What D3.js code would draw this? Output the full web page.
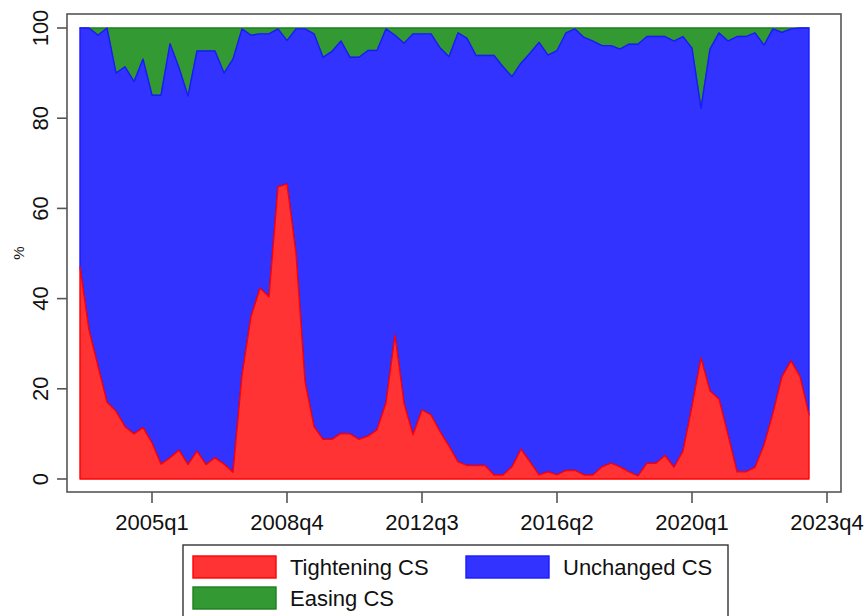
<!DOCTYPE html>
<html lang="en">
<head>
<meta charset="UTF-8">
<style>
  body { margin: 0; background: #fff; }
  svg { display: block; font-family: Arial, "Liberation Sans", sans-serif; }
</style>
</head>
<body>
<div id="chart"></div>
<script src="https://cdn.jsdelivr.net/npm/d3@7"></script>
<script>
// quarterly shares (%), 2003q1 .. 2023q2
var startYear = 2003, nQuarters = 82;

var tightening = [47, 33, 25, 17, 15, 11.6, 10, 11.4, 8, 3.3,
  4.7, 6.4, 3.2, 6.2, 3.2, 4.7, 3.3, 1.5, 23, 36,
  42.3, 40.4, 64.8, 65.4, 50, 21.6, 11.6, 8.8, 8.8, 10.1,
  10, 8.8, 9.5, 10.9, 16.9, 31.9, 16.8, 9.8, 15.3, 14.2,
  10.5, 7.3, 3.8, 3, 3, 3, 0.9, 0.9, 2.7, 6.6,
  3.8, 0.9, 1.6, 0.9, 1.9, 1.9, 0.9, 0.9, 2.7, 3.5,
  2.7, 1.6, 0.7, 3.5, 3.5, 5.2, 2.6, 6.2, 16.1, 26.8,
  19.5, 17.7, 9.8, 1.6, 1.6, 2.6, 7.5, 14.6, 22.7, 26.2,
  22.7, 14.2];

var unchanged = [53, 67, 73.4, 83, 75, 79.8, 78.1, 81.7, 77.1, 81.8,
  91.8, 84.8, 81.7, 88.7, 91.7, 90.2, 86.7, 91.6, 76.8, 62.4,
  56.4, 58.3, 35, 31.8, 49.8, 78.2, 87.1, 84.7, 86, 87,
  83.5, 84.7, 85.5, 84.1, 82.9, 66.5, 79.8, 88.9, 83.4, 84.5,
  85.1, 86.3, 95.1, 94.7, 90.9, 90.9, 93, 90.5, 86.5, 85.6,
  90.6, 95.9, 92.4, 94.1, 97, 97.9, 97, 96.2, 93.4, 92.6,
  92.6, 94.8, 95.7, 94.6, 94.6, 92.9, 94.5, 91.9, 79.4, 55.4,
  75.8, 81.2, 87.3, 96.5, 96.5, 96.3, 88.7, 85.2, 76.3, 73.6,
  77.3, 85.8];

var easing = [0, 0, 1.6, 0, 10, 8.6, 11.9, 6.9, 14.9, 14.9,
  3.5, 8.8, 15.1, 5.1, 5.1, 5.1, 10, 6.9, 0.2, 1.6,
  1.3, 1.3, 0.2, 2.8, 0.2, 0.2, 1.3, 6.5, 5.2, 2.9,
  6.5, 6.5, 5, 5, 0.2, 1.6, 3.4, 1.3, 1.3, 1.3,
  4.4, 6.4, 1.1, 2.3, 6.1, 6.1, 6.1, 8.6, 10.8, 7.8,
  5.6, 3.2, 6, 5, 1.1, 0.2, 2.1, 2.9, 3.9, 3.9,
  4.7, 3.6, 3.6, 1.9, 1.9, 1.9, 2.9, 1.9, 4.5, 17.8,
  4.7, 1.1, 2.9, 1.9, 1.9, 1.1, 3.8, 0.2, 1, 0.2,
  0, 0];

var xTickLabels = ["2005q1", "2008q4", "2012q3", "2016q2", "2020q1", "2023q4"];
var yTicks = [0, 20, 40, 60, 80, 100];

var seriesKeys = ["tightening", "unchanged", "easing"];
var seriesNames = { tightening: "Tightening CS", unchanged: "Unchanged CS", easing: "Easing CS" };
var fills = { tightening: "#ff3333", unchanged: "#3333ff", easing: "#339933" };
var strokes = { tightening: "#ff0000", unchanged: "#1a1aff", easing: "#1e7f1e" };

var width = 867, height = 616;

// quarter number -> year*4 + (q-1)
function qnum(label) {
    return +label.slice(0, 4) * 4 + (+label.slice(5) - 1);
}

var rows = [];
for (var i = 0; i < nQuarters; i++) {
    rows.push({
        t: startYear * 4 + i,
        tightening: tightening[i],
        unchanged: unchanged[i],
        easing: easing[i]
    });
}

var x = d3.scaleLinear()
    .domain([startYear * 4, startYear * 4 + nQuarters - 1])
    .range([80, 809]);

var y = d3.scaleLinear()
    .domain([0, 100])
    .range([479, 28]);

var svg = d3.select("#chart")
    .append("svg")
    .attr("width", width)
    .attr("height", height);

var stacked = d3.stack().keys(seriesKeys)(rows);

var area = d3.area()
    .x(function (d) { return x(d.data.t); })
    .y0(function (d) { return y(d[0]); })
    .y1(function (d) { return y(d[1]); });

// draw top layer first so that lower layers' outlines sit on top
svg.selectAll(".layer")
    .data(stacked.slice().reverse())
    .enter()
    .append("path")
    .attr("class", "layer")
    .attr("d", area)
    .style("fill", function (d) { return fills[d.key]; })
    .style("stroke", function (d) { return strokes[d.key]; })
    .style("stroke-width", 1.4)
    .style("stroke-linejoin", "round");

// plot frame
svg.append("rect")
    .attr("x", 67)
    .attr("y", 14)
    .attr("width", 841 - 67)
    .attr("height", 492 - 14)
    .style("fill", "none")
    .style("stroke", "#555")
    .style("stroke-width", 1.6);

// y axis
var yAxis = svg.append("g");
yAxis.selectAll("line")
    .data(yTicks)
    .enter()
    .append("line")
    .attr("x1", 57).attr("x2", 67)
    .attr("y1", function (d) { return y(d); })
    .attr("y2", function (d) { return y(d); })
    .style("stroke", "#555")
    .style("stroke-width", 1.6);

yAxis.selectAll("text")
    .data(yTicks)
    .enter()
    .append("text")
    .attr("transform", function (d) { return "translate(48," + y(d) + ") rotate(-90)"; })
    .style("text-anchor", "middle")
    .style("font-size", "22px")
    .style("fill", "#111")
    .text(function (d) { return d; });

svg.append("text")
    .attr("transform", "translate(24,253) rotate(-90)")
    .style("text-anchor", "middle")
    .style("font-size", "15px")
    .style("fill", "#111")
    .text("%");

// x axis
var xAxis = svg.append("g");
xAxis.selectAll("line")
    .data(xTickLabels)
    .enter()
    .append("line")
    .attr("x1", function (d) { return x(qnum(d)); })
    .attr("x2", function (d) { return x(qnum(d)); })
    .attr("y1", 492).attr("y2", 503)
    .style("stroke", "#555")
    .style("stroke-width", 1.6);

xAxis.selectAll("text")
    .data(xTickLabels)
    .enter()
    .append("text")
    .attr("x", function (d) { return x(qnum(d)); })
    .attr("y", 530)
    .style("text-anchor", "middle")
    .style("font-size", "22px")
    .style("fill", "#111")
    .text(function (d) { return d; });

// legend
var legend = svg.append("g");
legend.append("rect")
    .attr("x", 183)
    .attr("y", 545)
    .attr("width", 728 - 183)
    .attr("height", 120)
    .style("fill", "#fff")
    .style("stroke", "#333")
    .style("stroke-width", 1.4);

var legendPos = [
    { key: "tightening", x: 193, y: 556 },
    { key: "unchanged", x: 466, y: 556 },
    { key: "easing", x: 193, y: 587 }
];

legend.selectAll(".key")
    .data(legendPos)
    .enter()
    .append("rect")
    .attr("class", "key")
    .attr("x", function (d) { return d.x; })
    .attr("y", function (d) { return d.y; })
    .attr("width", 83)
    .attr("height", 22)
    .style("fill", function (d) { return fills[d.key]; })
    .style("stroke", function (d) { return strokes[d.key]; })
    .style("stroke-width", 1.4);

legend.selectAll(".lab")
    .data(legendPos)
    .enter()
    .append("text")
    .attr("class", "lab")
    .attr("x", function (d) { return d.x + 97; })
    .attr("y", function (d) { return d.y + 19; })
    .style("font-size", "22px")
    .style("fill", "#111")
    .text(function (d) { return seriesNames[d.key]; });
</script>
</body>
</html>
